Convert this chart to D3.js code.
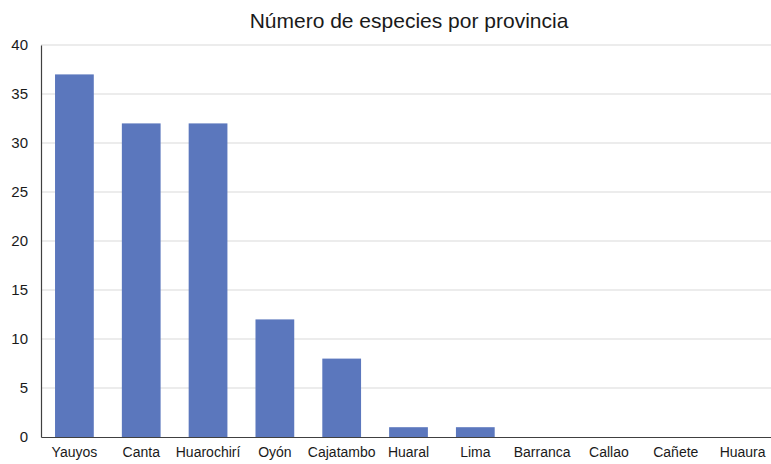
<!DOCTYPE html>
<html>
<head>
<meta charset="utf-8">
<script src="https://cdn.jsdelivr.net/npm/d3@7"></script>
<style>
  body { margin: 0; background: #fff; }
  text { font-family: "Liberation Sans", Arial, sans-serif; fill: #1a1a1a; }
</style>
</head>
<body>
<div id="chart"></div>
<script>
// Data
const provinces = ["Yauyos", "Canta", "Huarochirí", "Oyón", "Cajatambo", "Huaral", "Lima", "Barranca", "Callao", "Cañete", "Huaura"];
const speciesCount = [37, 32, 32, 12, 8, 1, 1, 0, 0, 0, 0];
const yTicks = [0, 5, 10, 15, 20, 25, 30, 35, 40];

const width = 771, height = 464;
const margin = { top: 45, right: -5, bottom: 27, left: 41 };

let svg = d3.select("#chart").append("svg")
    .attr("width", width)
    .attr("height", height)
    .style("display", "block");

let x = d3.scaleBand()
    .domain(provinces)
    .range([margin.left, width - margin.right])
    .paddingInner(0.42)
    .paddingOuter(0.21);

let y = d3.scaleLinear()
    .domain([0, 40])
    .range([height - margin.bottom, margin.top]);

// gridlines
svg.append("g")
    .selectAll("line")
    .data(yTicks.slice(1))
    .enter()
    .append("line")
    .attr("x1", margin.left)
    .attr("x2", width)
    .attr("y1", d => y(d))
    .attr("y2", d => y(d))
    .attr("stroke", "#d9d9d9")
    .attr("stroke-width", 1);

// bars
svg.append("g")
    .selectAll("rect")
    .data(provinces.map((p, i) => ({ name: p, value: speciesCount[i] })))
    .enter()
    .append("rect")
    .attr("x", d => x(d.name))
    .attr("width", x.bandwidth())
    .attr("y", d => y(d.value))
    .attr("height", d => y(0) - y(d.value))
    .attr("fill", "#5b77bd");

// y axis
let yAxis = svg.append("g")
    .attr("transform", `translate(${margin.left},0)`)
    .call(d3.axisLeft(y).tickValues(yTicks).tickSize(0).tickPadding(13));
yAxis.select(".domain").attr("stroke", "#404040").attr("stroke-width", 1.2);
yAxis.selectAll("text").style("font-size", "15px").attr("fill", "#1a1a1a");

// x axis
let xAxis = svg.append("g")
    .attr("transform", `translate(0,${y(0)})`)
    .call(d3.axisBottom(x).tickSize(0).tickPadding(10));
xAxis.select(".domain").attr("stroke", "#404040").attr("stroke-width", 1.2);
xAxis.selectAll("text").style("font-size", "14px").attr("fill", "#1a1a1a");

// title
svg.append("text")
    .attr("x", 409)
    .attr("y", 28)
    .attr("text-anchor", "middle")
    .style("font-size", "21px")
    .text("Número de especies por provincia");
</script>
</body>
</html>
